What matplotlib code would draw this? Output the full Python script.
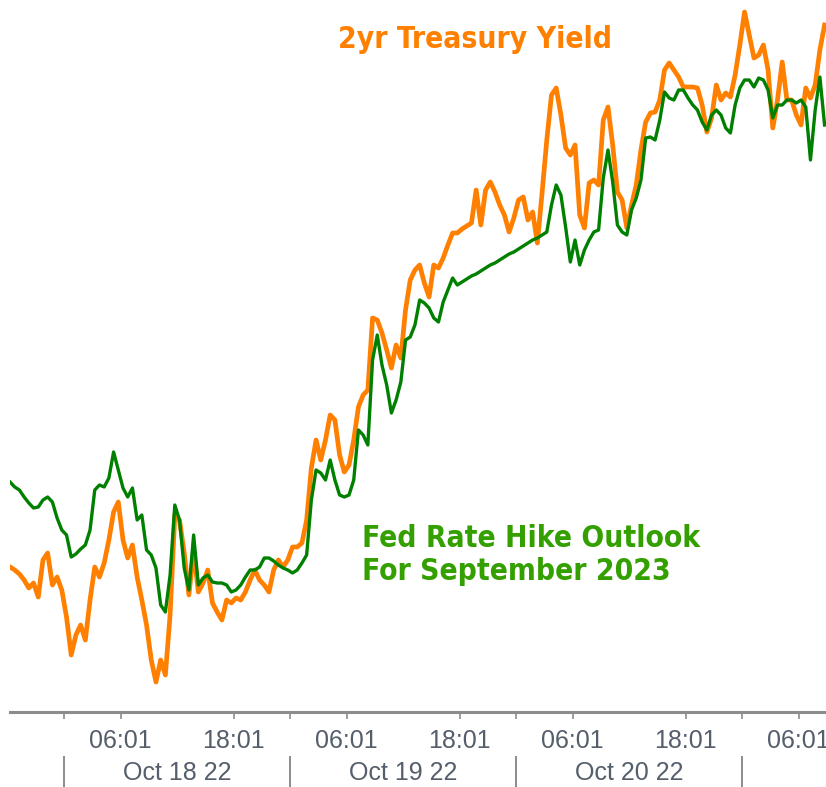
import matplotlib
matplotlib.use("Agg")
import matplotlib.pyplot as plt
import pandas as pd

# ---- data (30-minute samples) ----
start_time = "2022-10-17 18:16"
x_start = "2022-10-17 18:16"
x_end = "2022-10-21 08:55"

# 2yr Treasury yield (%, no y axis is shown)
treasury_2yr = [
    4.045, 4.042, 4.038, 4.032, 4.024, 4.029, 4.015, 4.052, 4.059, 4.027,
    4.035, 4.022, 3.995, 3.957, 3.977, 3.987, 3.972, 4.012, 4.045, 4.035,
    4.049, 4.072, 4.100, 4.110, 4.072, 4.054, 4.067, 4.035, 4.012, 3.987,
    3.952, 3.930, 3.952, 3.937, 3.997, 4.097, 4.092, 4.059, 4.017, 4.062,
    4.020, 4.029, 4.042, 4.009, 4.000, 3.992, 4.012, 4.009, 4.014, 4.012,
    4.020, 4.032, 4.042, 4.032, 4.027, 4.020, 4.042, 4.052, 4.045, 4.052,
    4.065, 4.065, 4.069, 4.092, 4.144, 4.172, 4.152, 4.172, 4.197, 4.192,
    4.157, 4.140, 4.147, 4.172, 4.205, 4.217, 4.222, 4.294, 4.292, 4.279,
    4.262, 4.244, 4.267, 4.254, 4.302, 4.332, 4.342, 4.347, 4.329, 4.315,
    4.347, 4.344, 4.354, 4.367, 4.379, 4.379, 4.383, 4.386, 4.389, 4.422,
    4.387, 4.422, 4.430, 4.420, 4.407, 4.397, 4.380, 4.394, 4.412, 4.415,
    4.392, 4.400, 4.369, 4.419, 4.472, 4.517, 4.524, 4.497, 4.464, 4.457,
    4.467, 4.397, 4.384, 4.429, 4.432, 4.427, 4.492, 4.505, 4.467, 4.420,
    4.412, 4.384, 4.407, 4.427, 4.462, 4.490, 4.499, 4.500, 4.512, 4.542,
    4.549, 4.542, 4.535, 4.525, 4.525, 4.525, 4.524, 4.507, 4.480, 4.494,
    4.527, 4.512, 4.519, 4.515, 4.537, 4.567, 4.600, 4.577, 4.554, 4.557,
    4.567, 4.542, 4.484, 4.512, 4.550, 4.512, 4.512, 4.497, 4.487, 4.524,
    4.514, 4.527, 4.562, 4.587,
]

# Implied Fed rate for September 2023 (%)
fed_sep_2023 = [
    4.630, 4.625, 4.622, 4.615, 4.609, 4.604, 4.605, 4.612, 4.615, 4.610,
    4.594, 4.582, 4.577, 4.555, 4.558, 4.563, 4.567, 4.582, 4.622, 4.627,
    4.625, 4.634, 4.660, 4.642, 4.624, 4.615, 4.624, 4.592, 4.597, 4.562,
    4.557, 4.544, 4.507, 4.500, 4.537, 4.607, 4.592, 4.544, 4.522, 4.577,
    4.527, 4.534, 4.537, 4.530, 4.529, 4.529, 4.527, 4.520, 4.522, 4.527,
    4.535, 4.542, 4.542, 4.545, 4.554, 4.554, 4.551, 4.547, 4.544, 4.542,
    4.539, 4.542, 4.549, 4.557, 4.612, 4.642, 4.639, 4.632, 4.652, 4.632,
    4.617, 4.615, 4.617, 4.632, 4.682, 4.677, 4.667, 4.752, 4.777, 4.747,
    4.727, 4.699, 4.712, 4.730, 4.772, 4.775, 4.787, 4.812, 4.809, 4.804,
    4.794, 4.790, 4.810, 4.822, 4.834, 4.827, 4.830, 4.833, 4.836, 4.838,
    4.841, 4.844, 4.847, 4.849, 4.852, 4.855, 4.858, 4.860, 4.863, 4.866,
    4.869, 4.872, 4.874, 4.877, 4.880, 4.907, 4.927, 4.917, 4.885, 4.850,
    4.872, 4.847, 4.862, 4.872, 4.880, 4.882, 4.934, 4.962, 4.930, 4.887,
    4.880, 4.877, 4.902, 4.914, 4.932, 4.974, 4.975, 4.972, 4.992, 5.020,
    5.014, 5.012, 5.022, 5.022, 5.014, 5.007, 5.002, 4.990, 4.982, 4.997,
    5.002, 4.997, 4.984, 4.979, 5.007, 5.024, 5.032, 5.032, 5.025, 5.034,
    5.032, 5.022, 4.994, 5.007, 5.007, 5.012, 5.012, 5.009, 5.012, 5.005,
    4.952, 5.002, 5.035, 4.987,
]

day_labels = ["Oct 18 22", "Oct 19 22", "Oct 20 22"]
day_dates = ["2022-10-18", "2022-10-19", "2022-10-20", "2022-10-21"]
hour_ticks = ["06:01", "18:01"]

title_orange = "2yr Treasury Yield"
title_green = "Fed Rate Hike Outlook\nFor September 2023"

ORANGE = "#FF8000"
GREEN = "#008000"
GREEN_TEXT = "#34A000"
AXIS_GRAY = "#8C8C8C"
LABEL_GRAY = "#555E6B"

times = pd.date_range(start_time, periods=len(treasury_2yr), freq="30min")

fig = plt.figure(figsize=(8.26, 7.87), dpi=100)
ax = fig.add_axes([10 / 826, 75 / 787, 816 / 826, 712 / 787])
ax2 = ax.twinx()

ax.plot(times, treasury_2yr, color=ORANGE, lw=3.4)
ax2.plot(times, fed_sep_2023, color=GREEN, lw=2.4)

ax.set_ylim(3.900, 4.612)
ax2.set_ylim(4.400, 5.112)
xmin, xmax = pd.Timestamp(x_start), pd.Timestamp(x_end)

for a in (ax, ax2):
    for s in ("top", "left", "right"):
        a.spines[s].set_visible(False)
    a.set_yticks([])
    a.patch.set_visible(False)
ax2.spines["bottom"].set_visible(False)
ax.spines["bottom"].set_color(AXIS_GRAY)
ax.spines["bottom"].set_linewidth(2.2)

# ticks
label_font = ["Liberation Sans Narrow", "Liberation Sans", "DejaVu Sans"]
major = []
major_labels = []
for d in day_dates:
    for h in hour_ticks:
        t = pd.Timestamp(d + " " + h)
        if xmin <= t <= xmax:
            major.append(t)
            major_labels.append(h)
minor = [pd.Timestamp(d) for d in day_dates]
ax.set_xticks(major)
ax.set_xticklabels(major_labels, fontsize=18, color=LABEL_GRAY, family=label_font)
ax.set_xticks(minor, minor=True)
ax.tick_params(axis="x", which="both", length=5, width=1.2, color=AXIS_GRAY,
               direction="out", pad=7)
ax.set_xlim(xmin, xmax)

# day labels + separators
trans = ax.get_xaxis_transform()
for d in day_dates:
    ax.plot([pd.Timestamp(d)] * 2, [-45 / 712, -76 / 712], transform=trans,
            color=AXIS_GRAY, lw=1.4, clip_on=False)
for d, lab in zip(day_dates, day_labels):
    ax.text(pd.Timestamp(d) + pd.Timedelta(hours=12), -61 / 712, lab, transform=trans,
            ha="center", va="center", fontsize=18, color=LABEL_GRAY, family=label_font)
ax.set_xlim(xmin, xmax)

# annotations
fig.text(475 / 826, 1 - 39 / 787, title_orange, color=ORANGE, fontsize=21.5,
         fontweight="bold", ha="center", va="center", family=["DejaVu Sans"],
         fontstretch="condensed")
fig.text(362 / 826, 1 - 555 / 787, title_green, color=GREEN_TEXT, fontsize=21.5,
         fontweight="bold", ha="left", va="center", family=["DejaVu Sans"],
         fontstretch="condensed", linespacing=1.2)

fig.savefig("out.png", dpi=100)
